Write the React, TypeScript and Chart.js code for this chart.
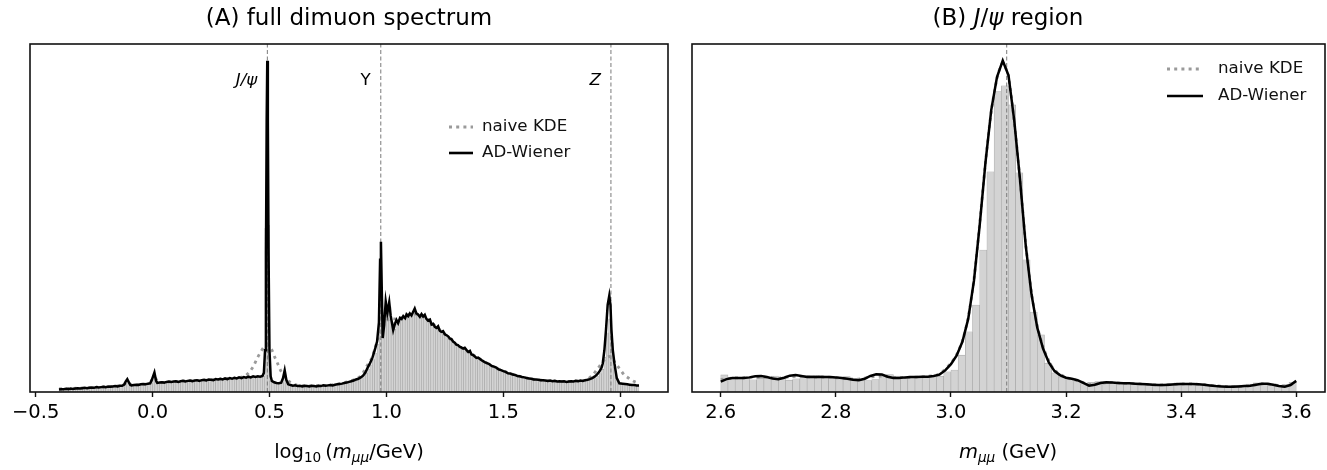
import React, { useEffect, useLayoutEffect, useRef } from "react";
import { Chart, registerables } from "chart.js";

Chart.register(...registerables);

const FONT = "'DejaVu Sans', 'Liberation Sans', sans-serif";

// ---------------- Panel A : full dimuon spectrum (log10 m) ----------------
const leftBinStart = -0.4;
const leftBinWidth = 0.01;
const leftHistCounts = [
  0.8, 0.9, 0.8, 1.0, 0.9, 1.0, 1.1, 1.0, 1.1, 1.2,
  1.1, 1.2, 1.3, 1.2, 1.3, 1.4, 1.3, 1.4, 1.5, 1.4,
  1.5, 1.6, 1.5, 1.7, 1.6, 1.7, 1.8, 1.9, 2.4, 3.3,
  2.3, 1.9, 2.0, 2.0, 2.1, 2.1, 2.2, 2.3, 2.3, 2.6,
  4.8, 2.9, 2.6, 2.7, 2.7, 2.8, 2.8, 2.9, 2.9, 2.9,
  3.0, 3.0, 3.0, 3.1, 3.1, 3.1, 3.2, 3.2, 3.2, 3.3,
  3.3, 3.3, 3.4, 3.4, 3.4, 3.5, 3.5, 3.5, 3.6, 3.6,
  3.6, 3.7, 3.7, 3.8, 3.8, 3.8, 3.9, 3.9, 4.0, 4.0,
  4.0, 4.1, 4.1, 4.2, 4.2, 4.3, 4.3, 4.6, 47, 48,
  3.2, 2.7, 2.5, 2.4, 2.4, 2.7, 5.2, 3.0, 2.1, 1.9,
  1.8, 1.8, 1.7, 1.7, 1.7, 1.7, 1.7, 1.7, 1.7, 1.7,
  1.7, 1.8, 1.8, 1.8, 1.9, 1.9, 2.0, 2.0, 2.1, 2.2,
  2.3, 2.4, 2.5, 2.6, 2.8, 3.0, 3.2, 3.5, 3.8, 4.2,
  4.8, 5.5, 6.6, 7.8, 9.3, 11.2, 13.8, 32, 17, 21,
  25, 24.5, 20, 18, 19.5, 20.3, 20.8, 21.2, 21.4, 21.8,
  22.2, 22.8, 23.2, 22.5, 21.8, 22.0, 21.6, 20.8, 20.4, 19.6,
  19.2, 18.6, 18.2, 17.6, 17.1, 16.6, 16.0, 15.4, 14.8, 14.0,
  13.5, 13.0, 12.6, 12.4, 11.9, 11.4, 10.8, 10.4, 9.9, 9.6,
  9.2, 8.8, 8.4, 8.0, 7.6, 7.2, 6.9, 6.5, 6.2, 5.9,
  5.7, 5.4, 5.1, 4.9, 4.7, 4.5, 4.3, 4.1, 4.0, 3.8,
  3.7, 3.6, 3.5, 3.4, 3.4, 3.3, 3.2, 3.2, 3.1, 3.1,
  3.0, 3.0, 3.0, 2.9, 2.9, 2.9, 2.9, 3.0, 3.0, 3.0,
  3.1, 3.1, 3.1, 3.2, 3.2, 3.3, 3.4, 3.6, 3.8, 4.1,
  4.6, 5.3, 6.5, 10, 17, 21, 14, 7, 4, 2.8,
  2.5, 2.3, 2.2, 2.1, 2.0, 2.0, 1.9, 1.8,
];

const leftWiener: [number, number][] = [
  [-0.4, 0.7], [-0.39, 0.8], [-0.38, 0.8], [-0.37, 0.9], [-0.36, 0.8], [-0.35, 1.0], [-0.34, 0.9], [-0.33, 1.0], [-0.32, 1.1], [-0.31, 1.0],
  [-0.3, 1.1], [-0.29, 1.2], [-0.28, 1.1], [-0.27, 1.2], [-0.26, 1.3], [-0.25, 1.2], [-0.24, 1.4], [-0.23, 1.3], [-0.22, 1.4], [-0.21, 1.5],
  [-0.2, 1.4], [-0.19, 1.6], [-0.18, 1.5], [-0.17, 1.6], [-0.16, 1.7], [-0.15, 1.6], [-0.14, 1.8], [-0.13, 1.8], [-0.12, 2.2], [-0.115, 3.0],
  [-0.108, 3.7], [-0.1, 2.6], [-0.095, 2.0], [-0.09, 1.9], [-0.08, 2.0], [-0.07, 2.1], [-0.06, 2.0], [-0.05, 2.2], [-0.04, 2.3], [-0.03, 2.2],
  [-0.02, 2.4], [-0.01, 2.5], [-0.003, 3.5], [0.008, 5.6], [0.015, 3.2], [0.02, 2.6], [0.03, 2.7], [0.04, 2.8], [0.05, 2.7], [0.06, 2.9],
  [0.07, 3.0], [0.08, 2.9], [0.09, 3.0], [0.1, 3.1], [0.11, 2.9], [0.12, 3.1], [0.13, 3.2], [0.14, 3.0], [0.15, 3.2], [0.16, 3.3],
  [0.17, 3.1], [0.18, 3.3], [0.19, 3.4], [0.2, 3.2], [0.21, 3.4], [0.22, 3.5], [0.23, 3.3], [0.24, 3.6], [0.25, 3.5], [0.26, 3.4],
  [0.27, 3.7], [0.28, 3.6], [0.29, 3.8], [0.3, 3.6], [0.31, 3.9], [0.32, 3.7], [0.33, 4.0], [0.34, 3.8], [0.35, 4.1], [0.36, 3.9],
  [0.37, 4.2], [0.38, 4.0], [0.39, 4.3], [0.4, 4.1], [0.41, 4.4], [0.42, 4.2], [0.43, 4.5], [0.44, 4.3], [0.45, 4.5], [0.46, 4.4],
  [0.47, 4.6], [0.476, 5.5], [0.481, 12], [0.485, 40], [0.488, 78], [0.4905, 95.2], [0.493, 78], [0.496, 40], [0.5, 12], [0.505, 4.5],
  [0.51, 3.2], [0.52, 2.8], [0.53, 2.6], [0.54, 2.5], [0.55, 2.7], [0.558, 4.0], [0.565, 6.2], [0.572, 3.5], [0.58, 2.2], [0.59, 2.0],
  [0.6, 1.8], [0.61, 1.9], [0.62, 1.7], [0.63, 1.8], [0.64, 1.6], [0.65, 1.8], [0.66, 1.7], [0.67, 1.6], [0.68, 1.8], [0.69, 1.7],
  [0.7, 1.6], [0.71, 1.8], [0.72, 1.7], [0.73, 1.9], [0.74, 1.8], [0.75, 1.9], [0.76, 2.0], [0.77, 1.9], [0.78, 2.1], [0.79, 2.2],
  [0.8, 2.3], [0.81, 2.4], [0.82, 2.6], [0.83, 2.7], [0.84, 2.9], [0.85, 3.1], [0.86, 3.3], [0.87, 3.6], [0.88, 3.8], [0.89, 4.2],
  [0.9, 4.7], [0.91, 5.6], [0.92, 7.0], [0.93, 8.3], [0.94, 9.8], [0.95, 12.0], [0.96, 14.5], [0.968, 20], [0.973, 38], [0.9765, 43.2],
  [0.98, 30], [0.984, 15.5], [0.99, 19], [0.997, 26], [1.004, 22.7], [1.012, 25.8], [1.018, 22], [1.029, 17.8], [1.036, 19.5], [1.043, 20.7],
  [1.05, 19.8], [1.058, 21.3], [1.065, 21.0], [1.072, 21.8], [1.08, 21.2], [1.086, 22.3], [1.093, 21.8], [1.1, 22.6], [1.107, 22.0], [1.114, 23.0],
  [1.121, 24.0], [1.128, 22.6], [1.135, 22.3], [1.143, 21.6], [1.15, 22.4], [1.157, 21.7], [1.164, 22.2], [1.171, 21.0], [1.178, 20.5], [1.186, 20.8],
  [1.193, 19.4], [1.2, 19.6], [1.207, 18.7], [1.214, 18.4], [1.221, 18.9], [1.228, 17.6], [1.235, 17.3], [1.242, 17.5], [1.25, 16.6], [1.257, 16.3],
  [1.264, 16.0], [1.271, 15.4], [1.278, 15.2], [1.285, 14.5], [1.292, 14.2], [1.299, 13.6], [1.306, 13.5], [1.313, 13.0], [1.32, 12.8], [1.328, 12.5],
  [1.335, 12.7], [1.342, 12.1], [1.35, 11.5], [1.357, 11.8], [1.364, 10.8], [1.371, 10.6], [1.378, 10.2], [1.385, 9.8], [1.392, 9.9], [1.4, 9.5],
  [1.41, 9.0], [1.42, 8.6], [1.43, 8.3], [1.44, 8.0], [1.45, 7.5], [1.46, 7.3], [1.47, 7.0], [1.48, 6.5], [1.49, 6.3], [1.5, 6.0],
  [1.51, 5.8], [1.52, 5.4], [1.53, 5.3], [1.54, 5.0], [1.55, 4.9], [1.56, 4.6], [1.57, 4.5], [1.58, 4.3], [1.59, 4.2], [1.6, 4.0],
  [1.61, 3.9], [1.62, 3.8], [1.63, 3.6], [1.64, 3.6], [1.65, 3.5], [1.66, 3.4], [1.67, 3.4], [1.68, 3.3], [1.69, 3.2], [1.7, 3.3],
  [1.71, 3.1], [1.72, 3.2], [1.73, 3.0], [1.74, 3.1], [1.75, 3.0], [1.76, 3.1], [1.77, 2.9], [1.78, 3.0], [1.79, 3.1], [1.8, 3.0],
  [1.81, 3.2], [1.82, 3.1], [1.83, 3.3], [1.84, 3.2], [1.85, 3.4], [1.86, 3.5], [1.87, 3.7], [1.88, 4.0], [1.89, 4.4], [1.9, 5.0],
  [1.91, 5.8], [1.92, 7.0], [1.925, 8.2], [1.932, 12], [1.939, 18], [1.946, 25], [1.953, 27.7], [1.958, 25], [1.962, 18], [1.968, 12],
  [1.975, 8.2], [1.985, 4.0], [1.996, 2.5], [2.01, 2.4], [2.02, 2.3], [2.03, 2.2], [2.04, 2.1], [2.05, 2.0], [2.06, 2.0], [2.07, 1.9], [2.08, 1.9],
];

const leftNaive: [number, number][] = [
  [-0.4, 0.9], [-0.36, 1.0], [-0.32, 1.1], [-0.28, 1.2], [-0.24, 1.35], [-0.2, 1.5], [-0.16, 1.7], [-0.13, 1.9], [-0.11, 2.8], [-0.09, 2.1],
  [-0.06, 2.1], [-0.03, 2.3], [-0.01, 2.8], [0.008, 4.2], [0.025, 2.9], [0.05, 2.8], [0.1, 3.0], [0.15, 3.2], [0.2, 3.3], [0.25, 3.5],
  [0.3, 3.7], [0.35, 4.0], [0.38, 4.3], [0.4, 4.8], [0.415, 5.8], [0.432, 7.5], [0.446, 9.5], [0.463, 11.6], [0.478, 13.0], [0.49, 13.5],
  [0.5, 13.0], [0.51, 12.1], [0.522, 10.1], [0.536, 8.0], [0.549, 6.0], [0.565, 4.4], [0.575, 3.5], [0.591, 2.7], [0.61, 2.1], [0.65, 1.8],
  [0.7, 1.8], [0.75, 1.9], [0.8, 2.4], [0.84, 3.0], [0.87, 3.8], [0.887, 4.4], [0.9, 5.5], [0.915, 7.3], [0.937, 9.7], [0.951, 12.6],
  [0.965, 15.5], [0.98, 18], [1.0, 20.5], [1.02, 21], [1.05, 21], [1.1, 22.3], [1.15, 22], [1.2, 19.5], [1.25, 16.5], [1.3, 13.6],
  [1.35, 11.5], [1.4, 9.5], [1.45, 7.5], [1.5, 6.0], [1.55, 4.9], [1.6, 4.0], [1.65, 3.5], [1.7, 3.2], [1.75, 3.0], [1.8, 3.1],
  [1.83, 3.2], [1.853, 3.4], [1.882, 4.9], [1.904, 6.8], [1.925, 8.7], [1.94, 9.8], [1.953, 10.2], [1.965, 9.8], [1.975, 8.7], [1.996, 6.8],
  [2.017, 4.9], [2.038, 3.9], [2.06, 3.0], [2.08, 2.5],
];

const leftTicks = [-0.5, 0.0, 0.5, 1.0, 1.5, 2.0];
const leftMarkers = [0.4909, 0.9759, 1.96];
const leftMarkerLabels = ["J/ψ", "Υ", "Z"];
const leftMarkerItalic = [true, false, true];

// ---------------- Panel B : J/psi region (linear m) ----------------
const rightBinStart = 2.6;
const rightBinWidth = 0.0125;
const rightHistCounts = [
  4.9, 3.6, 3.8, 4.0, 3.5, 3.9, 4.2, 4.6, 4.0, 3.4,
  3.8, 4.7, 4.8, 4.2, 4.6, 4.1, 4.3, 4.4, 3.9, 3.7,
  3.3, 3.6, 4.4, 5.0, 4.6, 3.9, 4.1, 4.3, 4.2, 4.4,
  4.5, 5.8, 6.3, 10.6, 17.3, 25, 40.8, 63.3, 86.3, 88,
  82.5, 63, 38, 23, 16.4, 8.3, 5.5, 4.3, 3.6, 3.0,
  2.4, 2.8, 3.0, 2.9, 2.7, 2.6, 2.5, 2.4, 2.3, 2.4,
  2.2, 2.3, 2.5, 2.6, 2.5, 2.3, 2.2, 2.0, 1.9, 1.8,
  1.8, 1.9, 2.0, 2.3, 2.6, 2.5, 2.2, 1.9, 2.1, 2.8,
];

const rightWiener: [number, number][] = [
  [2.6, 3.0], [2.61, 3.7], [2.62, 4.0], [2.63, 4.0], [2.64, 4.0], [2.65, 4.2], [2.66, 4.5], [2.67, 4.6], [2.68, 4.3], [2.69, 3.9],
  [2.7, 3.7], [2.71, 4.1], [2.72, 4.7], [2.73, 4.9], [2.74, 4.6], [2.75, 4.3], [2.76, 4.3], [2.77, 4.4], [2.78, 4.3], [2.79, 4.3],
  [2.8, 4.2], [2.81, 4.0], [2.82, 3.8], [2.83, 3.5], [2.84, 3.4], [2.85, 3.8], [2.86, 4.6], [2.87, 5.1], [2.88, 5.0], [2.89, 4.4],
  [2.9, 4.0], [2.91, 4.0], [2.92, 4.2], [2.93, 4.3], [2.94, 4.3], [2.95, 4.4], [2.96, 4.4], [2.97, 4.6], [2.98, 5.0], [2.99, 6.2],
  [3.0, 8.0], [3.01, 10.5], [3.02, 14.5], [3.03, 21], [3.04, 32], [3.05, 48], [3.06, 66], [3.07, 81], [3.08, 90.5], [3.09, 95.2],
  [3.1, 91], [3.11, 78], [3.12, 61], [3.13, 42], [3.14, 28], [3.15, 18.5], [3.16, 12.5], [3.17, 8.5], [3.18, 6.0], [3.19, 4.8],
  [3.2, 4.1], [3.21, 3.8], [3.22, 3.4], [3.23, 2.6], [3.24, 1.8], [3.25, 2.1], [3.26, 2.6], [3.27, 2.8], [3.28, 2.7], [3.29, 2.6],
  [3.3, 2.5], [3.31, 2.5], [3.32, 2.4], [3.33, 2.3], [3.34, 2.2], [3.35, 2.1], [3.36, 2.0], [3.37, 2.0], [3.38, 2.1], [3.39, 2.2],
  [3.4, 2.3], [3.41, 2.3], [3.42, 2.3], [3.43, 2.2], [3.44, 2.1], [3.45, 1.9], [3.46, 1.7], [3.47, 1.6], [3.48, 1.5], [3.49, 1.5],
  [3.5, 1.6], [3.51, 1.7], [3.52, 1.8], [3.53, 2.1], [3.54, 2.4], [3.55, 2.4], [3.56, 2.1], [3.57, 1.7], [3.58, 1.5], [3.59, 2.0],
  [3.6, 3.2],
];

const rightNaive: [number, number][] = [
  [2.6, 3.6], [2.62, 4.0], [2.64, 4.1], [2.66, 4.3], [2.68, 4.2], [2.7, 4.0], [2.72, 4.4], [2.74, 4.5], [2.76, 4.3], [2.78, 4.3],
  [2.8, 4.1], [2.82, 3.8], [2.84, 3.7], [2.86, 4.3], [2.88, 4.6], [2.9, 4.2], [2.92, 4.2], [2.94, 4.3], [2.96, 4.5], [2.98, 5.2],
  [3.0, 8.3], [3.01, 10.8], [3.02, 14.8], [3.03, 21.5], [3.04, 32.5], [3.05, 48.5], [3.06, 66], [3.07, 80.5], [3.08, 90], [3.09, 94.5],
  [3.1, 90.5], [3.11, 77.5], [3.12, 61], [3.13, 42.5], [3.14, 28.5], [3.15, 19], [3.16, 13], [3.17, 9], [3.18, 6.3], [3.2, 4.2],
  [3.22, 3.3], [3.24, 2.2], [3.26, 2.5], [3.28, 2.7], [3.3, 2.5], [3.32, 2.4], [3.34, 2.2], [3.36, 2.0], [3.38, 2.1], [3.4, 2.3],
  [3.42, 2.3], [3.44, 2.1], [3.46, 1.8], [3.48, 1.6], [3.5, 1.6], [3.52, 1.8], [3.54, 2.3], [3.56, 2.1], [3.58, 1.7], [3.6, 2.6],
];

const rightTicks = [2.6, 2.8, 3.0, 3.2, 3.4, 3.6];
const rightMarkers = [3.0969];

const legendLabels = ["naive KDE", "AD-Wiener"];

// ---------------- helpers ----------------
type PanelCfg = {
  width: number;
  padLeft: number;
  padRight: number;
  xMin: number;
  xMax: number;
  ticks: number[];
  binStart: number;
  binWidth: number;
  counts: number[];
  wiener: [number, number][];
  naive: [number, number][];
  markers: number[];
  markerLabels: string[];
  markerItalic: boolean[];
  legend: { hx: number; hlen: number; tx: number; rows: number[] };
};

const fmtTick = (v: number) => v.toFixed(1).replace("-", "\u2212");

function buildChart(canvas: HTMLCanvasElement, p: PanelCfg) {
  const bars = p.counts.map((c, i) => ({ x: p.binStart + (i + 0.5) * p.binWidth, y: c }));
  const markerSets = p.markers.map((m) => ({
    type: "line" as const,
    data: [
      { x: m, y: 0 },
      { x: m, y: 100 },
    ],
    borderColor: "#7a7a7a",
    borderWidth: 1,
    borderDash: [4, 2.5],
    pointRadius: 0,
    order: 2,
  }));

  const framePlugin = {
    id: "frame",
    afterDraw(chart: any) {
      const { ctx, chartArea: a } = chart;
      ctx.save();
      ctx.strokeStyle = "#111";
      ctx.lineWidth = 1.6;
      ctx.strokeRect(a.left, a.top, a.right - a.left, a.bottom - a.top);
      ctx.restore();
    },
  };

  const labelPlugin = {
    id: "markerLabels",
    afterDatasetsDraw(chart: any) {
      const { ctx } = chart;
      const xs = chart.scales.x;
      ctx.save();
      ctx.fillStyle = "#000";
      ctx.textAlign = "right";
      ctx.textBaseline = "alphabetic";
      p.markerLabels.forEach((lab, i) => {
        ctx.font = `${p.markerItalic[i] ? "italic " : ""}16.7px ${FONT}`;
        ctx.fillText(lab, xs.getPixelForValue(p.markers[i]) - 10, 85);
      });
      ctx.restore();
    },
  };

  const legendPlugin = {
    id: "inLegend",
    afterDraw(chart: any) {
      const { ctx } = chart;
      const L = p.legend;
      ctx.save();
      ctx.beginPath();
      ctx.setLineDash([3, 4.2]);
      ctx.strokeStyle = "#9a9a9a";
      ctx.lineWidth = 3;
      ctx.moveTo(L.hx, L.rows[0]);
      ctx.lineTo(L.hx + L.hlen, L.rows[0]);
      ctx.stroke();
      ctx.beginPath();
      ctx.setLineDash([]);
      ctx.strokeStyle = "#000";
      ctx.lineWidth = 2.6;
      ctx.moveTo(L.hx, L.rows[1]);
      ctx.lineTo(L.hx + L.hlen, L.rows[1]);
      ctx.stroke();
      ctx.fillStyle = "#111";
      ctx.font = `16.7px ${FONT}`;
      ctx.textAlign = "left";
      ctx.textBaseline = "middle";
      ctx.fillText(legendLabels[0], L.tx, L.rows[0]);
      ctx.fillText(legendLabels[1], L.tx, L.rows[1]);
      ctx.restore();
    },
  };

  return new Chart(canvas, {
    type: "bar",
    data: {
      datasets: [
        {
          type: "line" as const,
          label: legendLabels[1],
          data: p.wiener.map(([x, y]) => ({ x, y })),
          borderColor: "#000",
          borderWidth: 2.5,
          pointRadius: 0,
          tension: 0,
          order: 0,
        },
        {
          type: "line" as const,
          label: legendLabels[0],
          data: p.naive.map(([x, y]) => ({ x, y })),
          borderColor: "#9a9a9a",
          borderWidth: 2.8,
          borderDash: [3, 4.2],
          pointRadius: 0,
          tension: 0.3,
          order: 1,
        },
        ...markerSets,
        {
          type: "bar" as const,
          label: "hist",
          data: bars,
          backgroundColor: "#d3d3d3",
          borderColor: "#a6a6a6",
          borderWidth: 0.6,
          borderSkipped: false,
          barPercentage: 1,
          categoryPercentage: 1,
          grouped: false,
          order: 3,
        },
      ] as any,
    },
    options: {
      responsive: false,
      maintainAspectRatio: false,
      devicePixelRatio: 1,
      animation: false,
      events: [],
      layout: { padding: { left: p.padLeft, right: p.padRight, top: 44, bottom: 0 } },
      plugins: {
        legend: { display: false },
        tooltip: { enabled: false },
        title: { display: false },
      },
      scales: {
        x: {
          type: "linear",
          min: p.xMin,
          max: p.xMax,
          offset: false,
          afterBuildTicks: (scale: any) => {
            scale.ticks = p.ticks.map((v) => ({ value: v }));
          },
          afterFit: (scale: any) => {
            scale.height = 78;
          },
          grid: {
            offset: false,
            drawOnChartArea: false,
            drawTicks: true,
            tickLength: 5,
            tickWidth: 1.4,
            tickColor: "#111",
          },
          border: { display: false },
          ticks: {
            autoSkip: false,
            maxRotation: 0,
            padding: 4,
            color: "#000",
            font: { family: FONT, size: 19.5 },
            callback: (v: any) => fmtTick(Number(v)),
          },
        },
        y: {
          display: false,
          min: 0,
          max: 100,
        },
      },
    } as any,
    plugins: [framePlugin, labelPlugin, legendPlugin],
  });
}

const leftCfg: PanelCfg = {
  width: 680,
  padLeft: 30,
  padRight: 12,
  xMin: -0.524,
  xMax: 2.204,
  ticks: leftTicks,
  binStart: leftBinStart,
  binWidth: leftBinWidth,
  counts: leftHistCounts,
  wiener: leftWiener,
  naive: leftNaive,
  markers: leftMarkers,
  markerLabels: leftMarkerLabels,
  markerItalic: leftMarkerItalic,
  legend: { hx: 449, hlen: 24, tx: 482, rows: [127, 153] },
};

const rightCfg: PanelCfg = {
  width: 647,
  padLeft: 12,
  padRight: 2,
  xMin: 2.55,
  xMax: 3.65,
  ticks: rightTicks,
  binStart: rightBinStart,
  binWidth: rightBinWidth,
  counts: rightHistCounts,
  wiener: rightWiener,
  naive: rightNaive,
  markers: rightMarkers,
  markerLabels: [],
  markerItalic: [],
  legend: { hx: 487, hlen: 36, tx: 538, rows: [69, 96] },
};

function Panel({ cfg, left }: { cfg: PanelCfg; left: number }) {
  const ref = useRef<HTMLCanvasElement | null>(null);
  useEffect(() => {
    if (!ref.current) return;
    const chart = buildChart(ref.current, cfg);
    return () => chart.destroy();
  }, [cfg]);
  return (
    <canvas
      ref={ref}
      width={cfg.width}
      height={470}
      style={{ position: "absolute", left, top: 0, width: cfg.width, height: 470 }}
    />
  );
}

const textBase: React.CSSProperties = {
  position: "absolute",
  transform: "translate(-50%, -50%)",
  whiteSpace: "nowrap",
  fontFamily: FONT,
  color: "#000",
  lineHeight: 1,
};
const subStyle: React.CSSProperties = { fontSize: "70%", verticalAlign: "-0.3em" };

export default function App() {
  useLayoutEffect(() => {
    document.body.style.margin = "0";
  }, []);
  return (
    <div style={{ position: "relative", width: 1327, height: 470, background: "#fff", overflow: "hidden" }}>
      <Panel cfg={leftCfg} left={0} />
      <Panel cfg={rightCfg} left={680} />
      <div style={{ ...textBase, left: 349, top: 17, fontSize: 23 }}>(A) full dimuon spectrum</div>
      <div style={{ ...textBase, left: 1008, top: 17, fontSize: 23 }}>
        (B) <i>J</i>/<i>ψ</i> region
      </div>
      <div style={{ ...textBase, left: 349, top: 453, fontSize: 19.5 }}>
        log<span style={subStyle}>10</span>
        {"\u2009"}(<i>m</i>
        <span style={subStyle}>
          <i>μμ</i>
        </span>
        /GeV)
      </div>
      <div style={{ ...textBase, left: 1008, top: 453, fontSize: 19.5 }}>
        <i>m</i>
        <span style={subStyle}>
          <i>μμ</i>
        </span>{" "}
        (GeV)
      </div>
    </div>
  );
}
